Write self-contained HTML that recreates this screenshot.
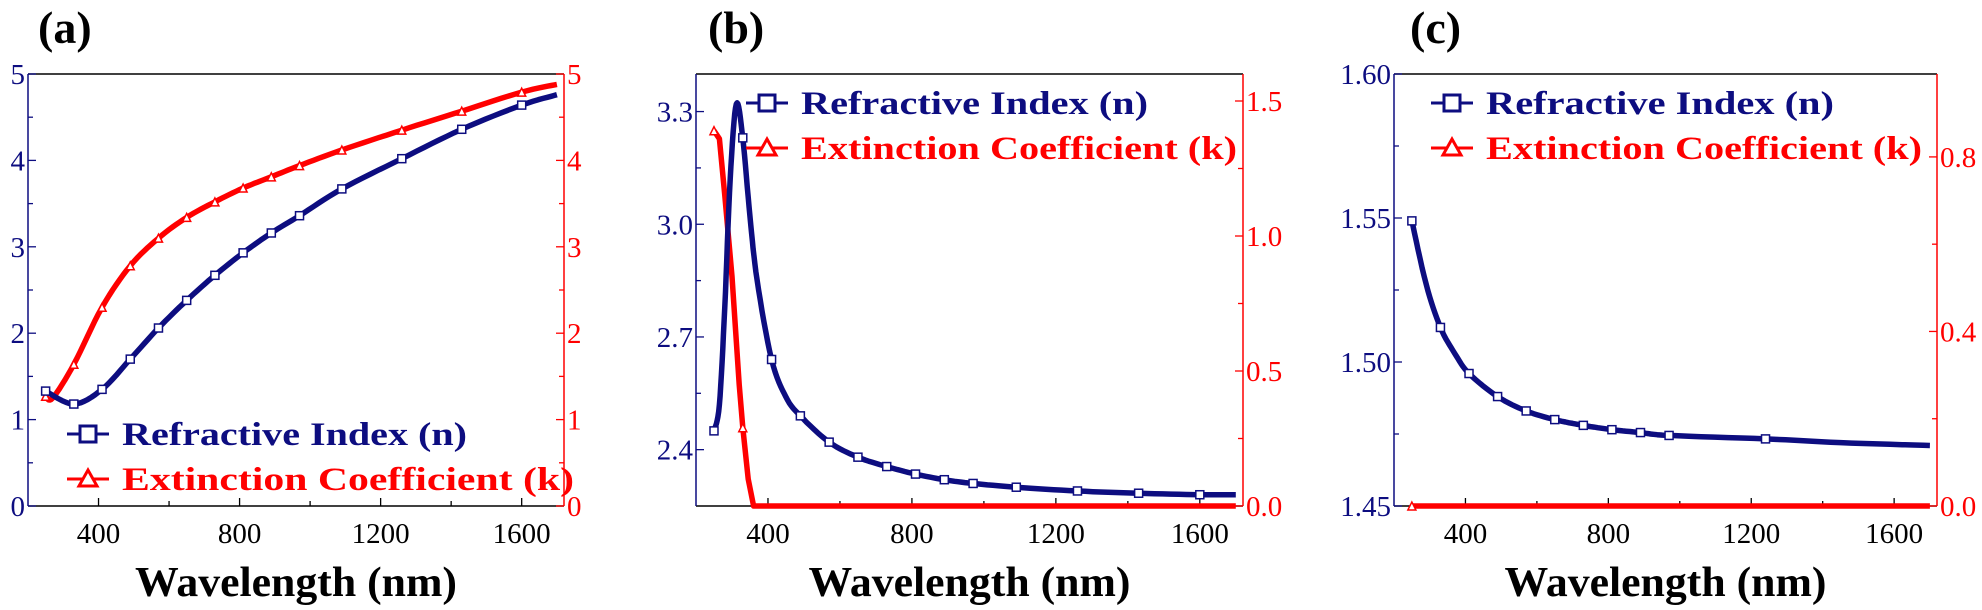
<!DOCTYPE html>
<html><head><meta charset="utf-8"><style>
html,body{margin:0;padding:0;background:#fff;}
svg{display:block;}
text{font-family:"Liberation Serif",serif;}
</style></head><body>
<svg id="s" width="1982" height="610" xmlns="http://www.w3.org/2000/svg"></svg>
<script>
const NAVY="#0d0d80", RED="#ff0000";
const s=document.getElementById('s');
let out='';
function panel(p){
  const {L,R,T,B}=p;
  const xs=v=>L+(v-200)/(1720-200)*(R-L);
  const yl=v=>B-(v-p.y0)/(p.y1-p.y0)*(B-T);
  const yr=v=>B-(v-p.k0)/(p.k1-p.k0)*(B-T);
  out+=`<line x1="${L}" y1="${T}" x2="${R}" y2="${T}" stroke="#000" stroke-width="1.5"/>`;
  out+=`<line x1="${L}" y1="${B}" x2="${R}" y2="${B}" stroke="#000" stroke-width="1.5"/>`;
  out+=`<line x1="${L}" y1="${T}" x2="${L}" y2="${B}" stroke="${NAVY}" stroke-width="1.5"/>`;
  out+=`<line x1="${R}" y1="${T}" x2="${R}" y2="${B}" stroke="${RED}" stroke-width="1.5"/>`;
  for(let v=400;v<=1700;v+=200){const x=xs(v);const maj=v%400==0;
    out+=`<line x1="${x}" y1="${B}" x2="${x}" y2="${B-(maj?8:5)}" stroke="#000" stroke-width="1.3"/>`;
    if(maj) out+=`<text x="${x}" y="${B+37}" font-size="29" text-anchor="middle" fill="#000">${v}</text>`;}
  p.lt.forEach(([v,lab])=>{const y=yl(v);
    out+=`<line x1="${L}" y1="${y}" x2="${L+(lab?8:5)}" y2="${y}" stroke="${NAVY}" stroke-width="1.3"/>`;
    if(lab) out+=`<text x="${L-3}" y="${y+10}" font-size="29" text-anchor="end" fill="${NAVY}">${lab}</text>`;});
  p.rt.forEach(([v,lab])=>{const y=yr(v);
    out+=`<line x1="${R}" y1="${y}" x2="${R-(lab?8:5)}" y2="${y}" stroke="${RED}" stroke-width="1.3"/>`;
    if(lab) out+=`<text x="${R+3}" y="${y+10}" font-size="29" text-anchor="start" fill="${RED}">${lab}</text>`;});
  function curve(pts,yf,col,mk){
    let d='';pts.forEach(([x,y],i)=>{d+=(i?'L':'M')+xs(x).toFixed(1)+','+yf(y).toFixed(1);});
    out+=`<path d="${d}" fill="none" stroke="${col}" stroke-width="5.5" stroke-linejoin="round"/>`;
    pts.forEach(([x,y])=>{if(!p.mk.includes(x))return;const X=xs(x),Y=yf(y);
      if(mk=='s') out+=`<rect x="${X-4}" y="${Y-4}" width="8" height="8" fill="#fff" stroke="${col}" stroke-width="1.5"/>`;
      else out+=`<path d="M${X-4},${Y+4}L${X+4},${Y+4}L${X},${Y-4}Z" fill="#fff" stroke="${col}" stroke-width="1.5"/>`;});
  }
  curve(p.k,yr,RED,'t');
  curve(p.n,yl,NAVY,'s');
  const [lx,ly1,ly2,tw1,tw2]=p.leg;
  out+=`<line x1="${lx}" y1="${ly1}" x2="${lx+42}" y2="${ly1}" stroke="${NAVY}" stroke-width="3"/><rect x="${lx+13}" y="${ly1-8}" width="16" height="16" fill="#fff" stroke="${NAVY}" stroke-width="3"/>`;
  out+=`<text x="${lx+55}" y="${ly1+11}" font-size="33" font-weight="bold" fill="${NAVY}" textLength="${tw1}" lengthAdjust="spacingAndGlyphs">Refractive Index (n)</text>`;
  out+=`<line x1="${lx}" y1="${ly2}" x2="${lx+42}" y2="${ly2}" stroke="${RED}" stroke-width="3"/><path d="M${lx+12},${ly2+7}L${lx+30},${ly2+7}L${lx+21},${ly2-9}Z" fill="#fff" stroke="${RED}" stroke-width="3"/>`;
  out+=`<text x="${lx+55}" y="${ly2+11}" font-size="33" font-weight="bold" fill="${RED}" textLength="${tw2}" lengthAdjust="spacingAndGlyphs">Extinction Coefficient (k)</text>`;
  out+=`<text x="${p.tx}" y="43" font-size="46" font-weight="bold" fill="#000">${p.title}</text>`;
  out+=`<text x="${(L+R)/2}" y="596" font-size="42" font-weight="bold" text-anchor="middle" fill="#000" textLength="322" lengthAdjust="spacingAndGlyphs">Wavelength (nm)</text>`;
}
function interp(arr){
  const out=[];
  for(let i=0;i<arr.length-1;i++){
    const p0=arr[Math.max(i-1,0)],p1=arr[i],p2=arr[i+1],p3=arr[Math.min(i+2,arr.length-1)];
    const n=8;
    for(let j=0;j<n;j++){const t=j/n,t2=t*t,t3=t2*t;
      const f=(a,b,c,d)=>0.5*((2*b)+(-a+c)*t+(2*a-5*b+4*c-d)*t2+(-a+3*b-3*c+d)*t3);
      out.push([f(p0[0],p1[0],p2[0],p3[0]),f(p0[1],p1[1],p2[1],p3[1])]);}
  }
  out.push(arr[arr.length-1]);return out;
}
(function(){
 const n=[[250,1.33],[330,1.18],[410,1.35],[490,1.7],[570,2.06],[650,2.38],[730,2.67],[810,2.93],[890,3.16],[970,3.36],[1090,3.67],[1260,4.02],[1430,4.36],[1600,4.64],[1700,4.76]];
 const k=[[250,1.27],[270,1.25],[330,1.64],[410,2.3],[490,2.78],[570,3.1],[650,3.34],[730,3.52],[810,3.68],[890,3.81],[970,3.94],[1090,4.12],[1260,4.35],[1430,4.57],[1600,4.79],[1700,4.88]];
 const P={L:28,R:564,T:74,B:506,y0:0,y1:5,k0:0,k1:5,title:"(a)",tx:38,
  lt:[],rt:[],leg:[67,434,479,345,452],mk:[250,330,410,490,570,650,730,810,890,970,1090,1260,1430,1600]};
 for(let v=0;v<=5;v+=0.5){P.lt.push([v,v%1==0?String(v):'']);P.rt.push([v,v%1==0?String(v):'']);}
 P.n=interp(n);P.k=interp(k);
 panel(P);
})();
(function(){
 const n=[[250,2.45],[265,2.52],[280,2.78],[295,3.12],[312,3.32],[330,3.23],[350,3.02],[370,2.85],[410,2.64],[450,2.54],[490,2.49],[570,2.42],[650,2.38],[730,2.355],[810,2.335],[890,2.32],[970,2.31],[1090,2.30],[1260,2.29],[1430,2.284],[1600,2.28],[1700,2.28]];
 const k=[[250,1.39],[265,1.36],[280,1.15],[300,0.85],[320,0.45],[330,0.29],[345,0.1],[360,0.0],[1700,0.0]];
 const P={L:696,R:1243,T:74,B:506,y0:2.25,y1:3.4,k0:0,k1:1.6,title:"(b)",tx:708,
  lt:[],rt:[],leg:[746,103,148,347,436],mk:[250,330,410,490,570,650,730,810,890,970,1090,1260,1430,1600]};
 [[2.4,'2.4'],[2.55,''],[2.7,'2.7'],[2.85,''],[3.0,'3.0'],[3.15,''],[3.3,'3.3']].forEach(a=>P.lt.push(a));
 [[0,'0.0'],[0.25,''],[0.5,'0.5'],[0.75,''],[1.0,'1.0'],[1.25,''],[1.5,'1.5']].forEach(a=>P.rt.push(a));
 P.n=interp(n);P.k=k;
 panel(P);
})();
(function(){
 const n=[[250,1.549],[290,1.527],[330,1.512],[370,1.503],[410,1.496],[490,1.488],[570,1.483],[650,1.480],[730,1.478],[810,1.4765],[890,1.4755],[970,1.4745],[1240,1.4733],[1450,1.472],[1700,1.471]];
 const k=[[250,0],[1700,0]];
 const P={L:1394,R:1937,T:74,B:506,y0:1.45,y1:1.60,k0:0,k1:0.99,title:"(c)",tx:1410,
  lt:[],rt:[],leg:[1431,103,148,348,436],mk:[250,330,410,490,570,650,730,810,890,970,1240]};
 [[1.45,'1.45'],[1.475,''],[1.50,'1.50'],[1.525,''],[1.55,'1.55'],[1.575,''],[1.60,'1.60']].forEach(a=>P.lt.push(a));
 [[0,'0.0'],[0.2,''],[0.4,'0.4'],[0.6,''],[0.8,'0.8']].forEach(a=>P.rt.push(a));
 P.n=interp(n);P.k=k;
 panel(P);
})();
s.innerHTML=out;
</script>
</body></html>
